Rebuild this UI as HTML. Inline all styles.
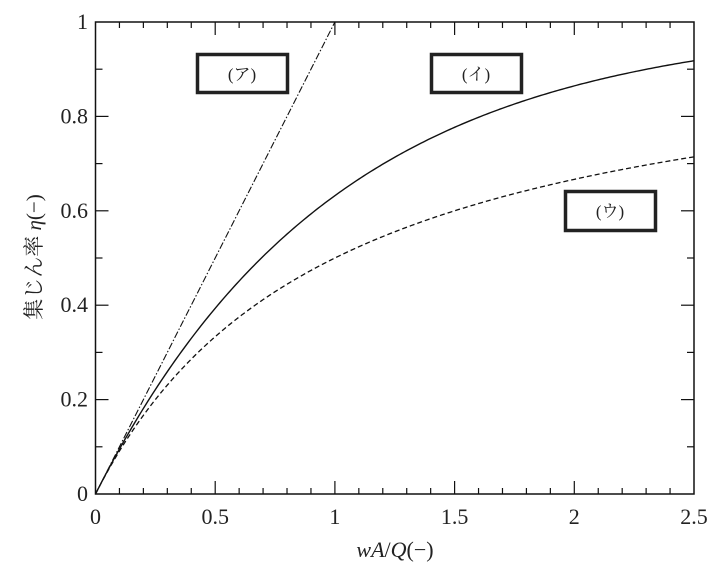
<!DOCTYPE html>
<html><head><meta charset="utf-8"><style>
html,body{margin:0;padding:0;background:#fff;}
svg{display:block;}
text{font-family:"Liberation Serif","DejaVu Serif","Noto Serif CJK SC",serif;fill:#222;font-weight:normal;}
</style></head><body>
<svg id="s" width="720" height="574" viewBox="0 0 720 574" xmlns="http://www.w3.org/2000/svg">
<rect x="95.5" y="22" width="598.5" height="472" fill="none" stroke="#111" stroke-width="1.5"/>
<g id="ticks" stroke="#111" stroke-width="1.2"></g>
<g font-size="22" text-anchor="end" id="ylab" style="font-family:'Liberation Serif','DejaVu Serif',serif"></g>
<g font-size="22" text-anchor="middle" id="xlab" style="font-family:'Liberation Serif','DejaVu Serif',serif"></g>
<path id="a" fill="none" stroke="#111" stroke-width="1.1" stroke-dasharray="7,2,1.5,2"/>
<path id="b" fill="none" stroke="#111" stroke-width="1.4"/>
<path id="c" fill="none" stroke="#111" stroke-width="1.3" stroke-dasharray="5,3"/>
<rect x="197.5" y="54.5" width="90" height="38" fill="#fff" stroke="#222" stroke-width="3.5"/>
<rect x="431.5" y="54.5" width="90" height="38" fill="#fff" stroke="#222" stroke-width="3.5"/>
<rect x="565.5" y="191.5" width="90" height="39" fill="#fff" stroke="#222" stroke-width="3.5"/>
<text x="242" y="80" font-size="17" text-anchor="middle">(ア)</text>
<text x="476" y="80" font-size="17" text-anchor="middle">(イ)</text>
<text x="610" y="217" font-size="17" text-anchor="middle">(ウ)</text>
<text x="395" y="557" font-size="22" text-anchor="middle"><tspan font-style="italic">wA</tspan>/<tspan font-style="italic">Q</tspan>(−)</text>
<text transform="translate(41,257) rotate(-90)" font-size="21" text-anchor="middle">集じん率 <tspan font-style="italic">η</tspan>(−)</text>
</svg>
<script>
var NS="http://www.w3.org/2000/svg";
var X0=95.5,X1=694,Y0=494,Y1=22;
function px(x){return X0+(X1-X0)*x/2.5;}
function py(y){return Y0-(Y0-Y1)*y;}
var t="",i;
for(i=1;i<25;i++){var x=px(i*0.1),L=(i%5==0)?13:6;t+='<line x1="'+x+'" y1="494" x2="'+x+'" y2="'+(494-L)+'"/><line x1="'+x+'" y1="22" x2="'+x+'" y2="'+(22+L)+'"/>';}
for(i=1;i<10;i++){var y=py(i*0.1),L=(i%2==0)?13:7;t+='<line x1="95.5" y1="'+y+'" x2="'+(95.5+L)+'" y2="'+y+'"/><line x1="694" y1="'+y+'" x2="'+(694-L)+'" y2="'+y+'"/>';}
document.getElementById("ticks").innerHTML=t;
function addText(g,x,y,s){var e=document.createElementNS(NS,"text");e.setAttribute("x",x);e.setAttribute("y",y);e.textContent=s;document.getElementById(g).appendChild(e);}
["0","0.2","0.4","0.6","0.8","1"].forEach(function(s,k){addText("ylab",88,py(k*0.2)+7,s);});
["0","0.5","1","1.5","2","2.5"].forEach(function(s,k){addText("xlab",px(k*0.5),524,s);});
function path(f){var d="";for(var x=0;x<=2.5001;x+=0.01){var v=f(x);if(v>1)break;d+=(d?"L":"M")+px(x).toFixed(2)+","+py(v).toFixed(2);}return d;}
document.getElementById("a").setAttribute("d","M"+px(0)+","+py(0)+"L"+px(1)+","+py(1));
document.getElementById("b").setAttribute("d",path(function(x){return 1-Math.exp(-x);}));
document.getElementById("c").setAttribute("d",path(function(x){return x/(1+x);}));
</script>
</body></html>
